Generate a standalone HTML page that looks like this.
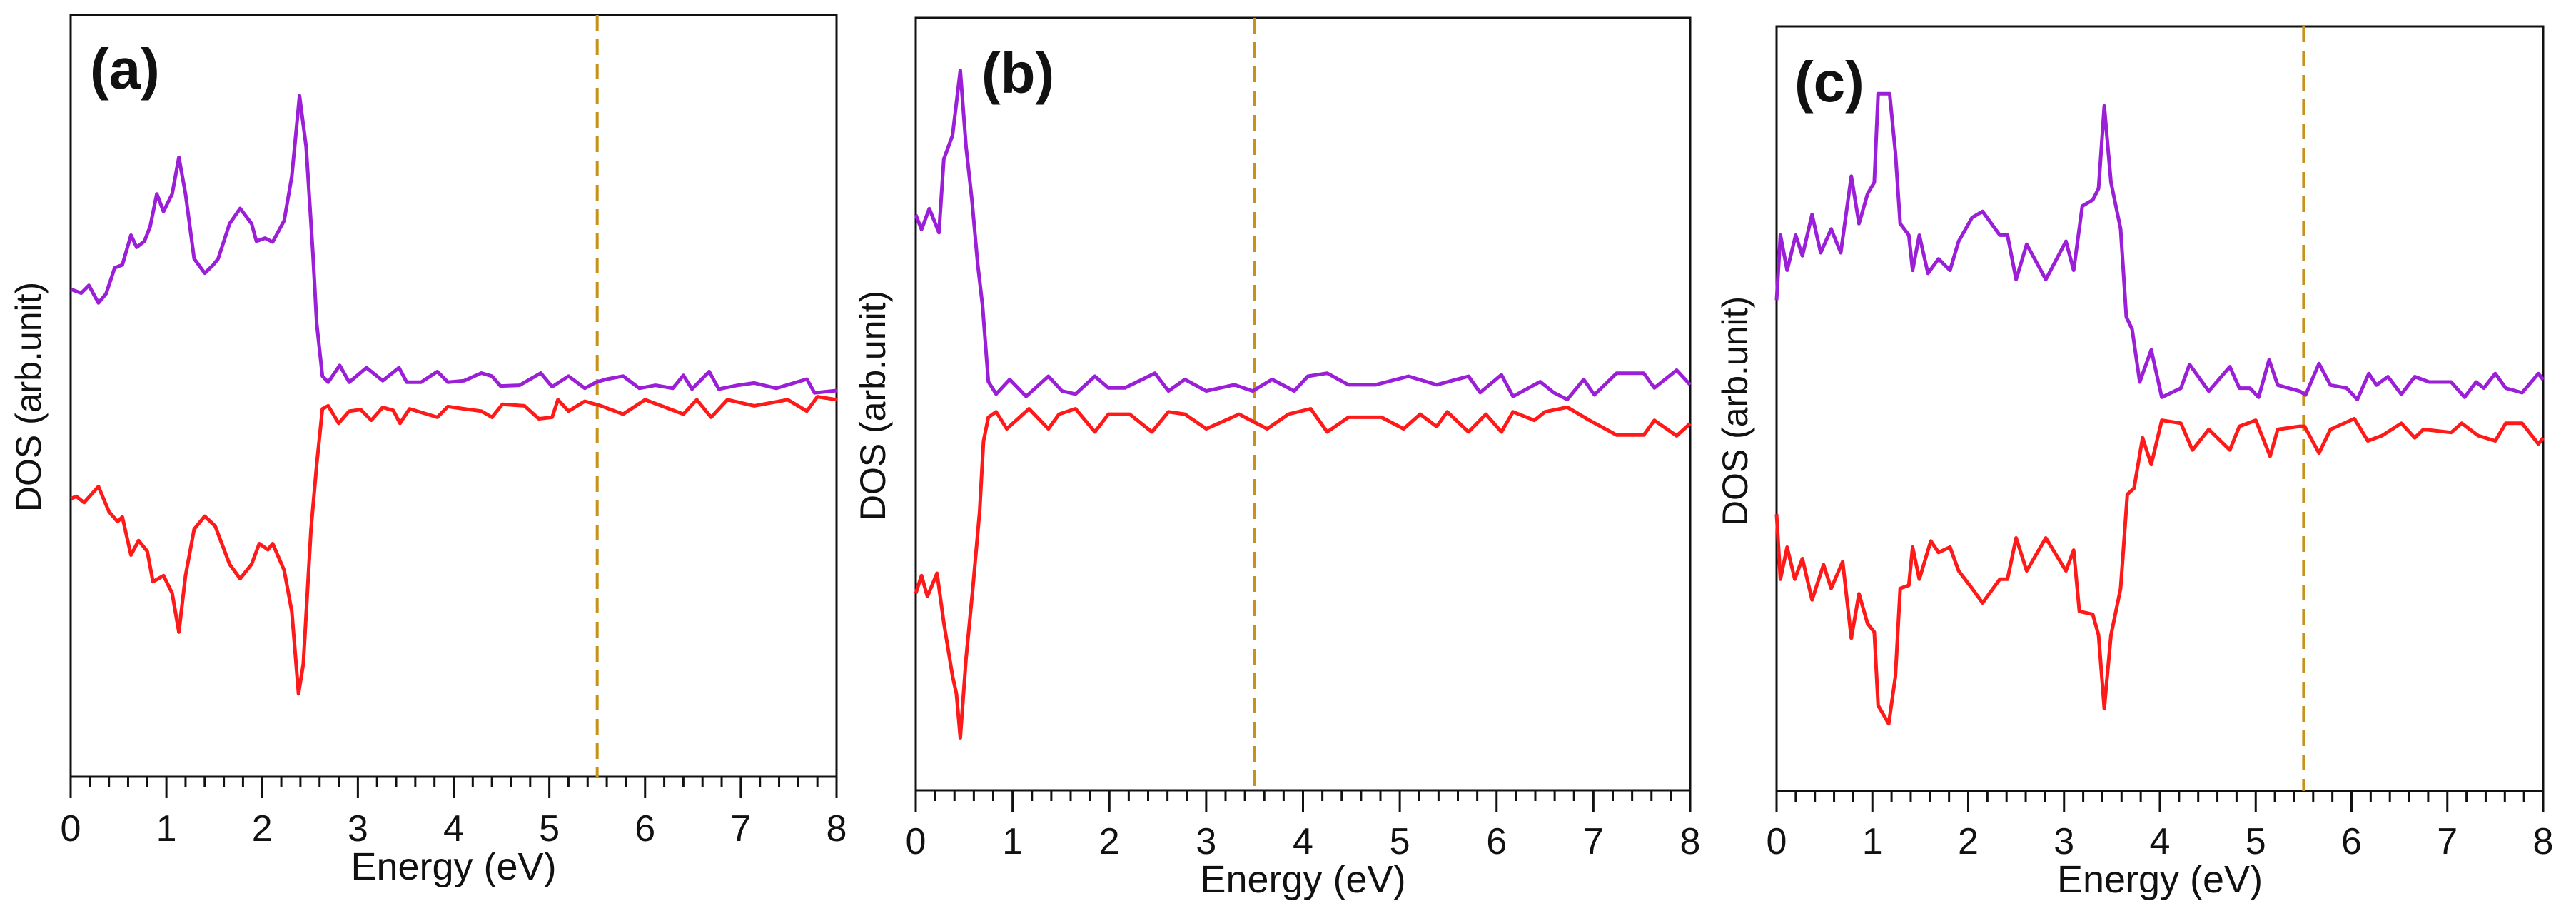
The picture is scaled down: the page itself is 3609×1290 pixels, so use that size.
<!DOCTYPE html>
<html><head><meta charset="utf-8"><style>
html,body{margin:0;padding:0;background:#fff;}
svg{display:block;}
text{font-family:"Liberation Sans",Arial,sans-serif;fill:#111;}
</style></head><body>
<svg id="fig" width="3609" height="1290" viewBox="0 0 3609 1290" xmlns="http://www.w3.org/2000/svg"></svg>
<script>
// ---- data (energy in eV, DOS in arb. units 0-100) ----
const xTicks = [0,1,2,3,4,5,6,7,8];
const panelLabels = ["(a)","(b)","(c)"];
const fermiLines = [5.5, 3.5, 5.5];

const aUpE = [0,0.11,0.19,0.29,0.37,0.46,0.54,0.63,0.69,0.77,0.83,0.90,0.97,1.06,1.13,1.20,1.29,1.40,1.49,1.54,1.66,1.77,1.89,1.94,2.03,2.11,2.23,2.31,2.39,2.46,2.53,2.57,2.63,2.69,2.81,2.91,3.09,3.26,3.43,3.51,3.66,3.83,3.94,4.11,4.29,4.40,4.49,4.69,4.91,5.03,5.20,5.37,5.49,5.60,5.77,5.94,6.11,6.29,6.40,6.49,6.67,6.77,6.97,7.14,7.37,7.69,7.77,8.0];
const aUpD = [64.0,63.5,64.5,62.2,63.4,66.8,67.2,71.1,69.5,70.3,72.2,76.5,74.2,76.5,81.3,76.5,68.0,66.1,67.2,68.0,72.6,74.6,72.6,70.3,70.7,70.2,73.0,78.8,89.4,82.7,68.8,59.5,52.6,51.8,54.0,51.8,53.7,52.0,53.7,51.8,51.8,53.2,51.8,52.0,53.0,52.6,51.3,51.4,53.0,51.2,52.6,51.0,51.8,52.2,52.6,51.0,51.4,51.0,52.7,50.9,53.2,50.9,51.4,51.7,51.0,52.2,50.4,50.7];
const aDnE = [0,0.06,0.14,0.29,0.40,0.49,0.54,0.63,0.71,0.80,0.86,0.97,1.06,1.13,1.20,1.29,1.40,1.51,1.66,1.77,1.89,1.97,2.06,2.11,2.23,2.31,2.38,2.43,2.51,2.57,2.63,2.69,2.80,2.91,3.03,3.14,3.26,3.37,3.44,3.54,3.83,3.94,4.11,4.29,4.40,4.51,4.74,4.89,5.03,5.09,5.20,5.37,5.54,5.77,6.0,6.17,6.40,6.54,6.69,6.86,7.14,7.49,7.69,7.80,8.0];
const aDnD = [36.5,36.8,36.0,38.1,34.8,33.5,34.1,29.1,31.0,29.6,25.6,26.4,24.1,19.0,26.4,32.5,34.2,32.9,27.9,26.0,27.9,30.6,29.8,30.6,27.1,21.7,10.9,14.8,32.5,41.0,48.3,48.7,46.4,48.0,48.2,46.8,48.5,48.1,46.4,48.3,47.2,48.6,48.3,48.0,47.2,48.9,48.7,47.0,47.2,49.5,48.0,49.3,48.7,47.6,49.5,48.7,47.6,49.5,47.2,49.5,48.7,49.5,48.0,49.9,49.5];

const bUpE = [0,0.06,0.14,0.24,0.29,0.38,0.46,0.52,0.58,0.64,0.69,0.75,0.83,0.97,1.14,1.37,1.51,1.65,1.85,1.99,2.16,2.47,2.61,2.78,3.00,3.29,3.48,3.68,3.91,4.05,4.25,4.47,4.75,5.09,5.38,5.71,5.83,6.05,6.17,6.45,6.59,6.73,6.90,7.01,7.24,7.52,7.63,7.86,8.0];
const bUpD = [74.5,72.6,75.3,72.2,81.7,84.8,93.2,83.3,76.4,68.1,62.7,52.9,51.3,53.2,51.0,53.6,51.7,51.3,53.6,52.1,52.1,54.0,51.7,53.2,51.7,52.5,51.7,53.2,51.7,53.6,54.0,52.5,52.5,53.6,52.5,53.6,51.5,53.8,51.0,52.9,51.5,50.6,53.2,51.2,54.0,54.0,52.1,54.4,52.5];
const bDnE = [0,0.06,0.12,0.22,0.29,0.38,0.42,0.46,0.52,0.59,0.66,0.70,0.75,0.83,0.94,1.17,1.37,1.48,1.65,1.85,1.99,2.21,2.44,2.61,2.78,3.00,3.34,3.63,3.85,4.08,4.25,4.47,4.81,5.04,5.21,5.38,5.49,5.71,5.89,6.05,6.17,6.39,6.50,6.73,6.96,7.24,7.52,7.63,7.86,8.0];
const bDnD = [25.5,27.8,25.1,28.1,21.7,14.8,12.5,6.8,17.1,26.2,36.1,45.2,48.3,49.0,46.8,49.4,46.8,48.7,49.4,46.4,48.7,48.7,46.4,49.0,48.7,46.8,48.7,46.8,48.7,49.4,46.4,48.3,48.3,46.8,48.7,47.1,49.0,46.4,48.7,46.4,49.0,47.9,49.0,49.6,47.9,46.0,46.0,47.9,45.9,47.5];

const cUpE = [0,0.04,0.11,0.20,0.27,0.37,0.46,0.57,0.67,0.78,0.86,0.95,1.02,1.06,1.18,1.24,1.29,1.38,1.42,1.49,1.58,1.69,1.81,1.90,2.04,2.15,2.33,2.41,2.50,2.61,2.81,3.02,3.10,3.19,3.30,3.36,3.42,3.49,3.59,3.65,3.71,3.79,3.91,4.02,4.22,4.31,4.51,4.73,4.83,4.94,5.03,5.14,5.23,5.46,5.52,5.66,5.78,5.95,6.06,6.18,6.26,6.38,6.52,6.66,6.81,7.04,7.18,7.30,7.38,7.50,7.61,7.78,7.95,8.0];
const cUpD = [64.2,72.7,68.1,72.7,70.0,75.4,70.4,73.5,70.4,80.4,74.2,78.1,79.6,91.2,91.2,83.5,74.2,72.7,68.1,72.7,67.7,69.6,68.1,71.9,75.0,75.8,72.7,72.7,66.9,71.5,66.9,71.9,68.1,76.5,77.3,78.8,89.6,79.6,73.5,62.0,60.4,53.5,57.7,51.5,52.7,55.8,52.3,55.5,52.7,52.7,51.5,56.4,53.1,52.3,51.8,55.9,53.1,52.7,51.2,54.6,53.1,54.2,51.9,54.2,53.5,53.5,51.5,53.5,52.7,54.6,52.7,52.1,54.6,53.8];
const cDnE = [0,0.04,0.11,0.19,0.27,0.37,0.49,0.57,0.69,0.78,0.86,0.95,1.02,1.06,1.17,1.24,1.29,1.38,1.42,1.49,1.61,1.69,1.81,1.90,2.04,2.15,2.33,2.41,2.50,2.61,2.81,3.02,3.10,3.16,3.30,3.36,3.42,3.49,3.59,3.66,3.73,3.82,3.91,4.02,4.22,4.34,4.51,4.73,4.83,5.00,5.15,5.23,5.46,5.51,5.66,5.78,6.03,6.17,6.32,6.52,6.66,6.75,7.04,7.15,7.32,7.50,7.61,7.78,7.95,8.0];
const cDnD = [36.2,27.7,31.9,27.7,30.4,25.0,29.6,26.5,30.0,20.0,25.8,21.9,20.8,11.2,8.8,15.0,26.5,26.9,31.9,27.7,32.7,31.2,31.9,28.8,26.5,24.6,27.7,27.7,33.1,28.8,33.1,28.8,31.5,23.5,23.1,20.4,10.8,20.4,26.5,38.8,39.6,46.2,42.7,48.5,48.1,44.6,47.3,44.6,47.7,48.5,43.8,47.3,47.7,47.7,44.2,47.3,48.7,45.8,46.5,48.1,46.2,47.3,46.9,48.1,46.5,45.8,48.1,48.1,45.4,46.2];

const seriesUpE = [aUpE,bUpE,cUpE], seriesUpD = [aUpD,bUpD,cUpD];
const seriesDnE = [aDnE,bDnE,cDnE], seriesDnD = [aDnD,bDnD,cDnD];

// ---- layout ----
const panels = [
  {x0:99,  x1:1172, y0:21, y1:1088, lx:126, ly:124, ylx:57,  yly:556, tly:1178, ely:1232},
  {x0:1283,x1:2368, y0:25, y1:1107, lx:1375,ly:130, ylx:1240,yly:568, tly:1196, ely:1250},
  {x0:2489,x1:3563, y0:37, y1:1108, lx:2514,ly:142, ylx:2448,yly:576, tly:1196, ely:1250}
];
const NS = "http://www.w3.org/2000/svg";
const svg = document.getElementById('fig');
function mk(tag, attrs, parent){ const e=document.createElementNS(NS,tag); for(const k in attrs) e.setAttribute(k,attrs[k]); (parent||svg).appendChild(e); return e; }

panels.forEach((p,i)=>{
  const sx = e => p.x0 + (e/8)*(p.x1-p.x0);
  const sy = d => p.y1 - (d/100)*(p.y1-p.y0);
  const g = mk('g',{});
  
  

  const frame = mk('rect',{x:p.x0,y:p.y0,width:p.x1-p.x0,height:p.y1-p.y0,fill:'none',stroke:'#111','stroke-width':3},g);
  
  

  for(let k=0;k<=40;k++){
    const e = k*0.2, major = k%5===0;
    const t = mk('line',{x1:sx(e),x2:sx(e),y1:p.y1,y2:p.y1+(major?30:15),stroke:'#111','stroke-width':3},g);
    
    
  }
  xTicks.forEach(v=>{
    const t = mk('text',{x:sx(v),y:p.tly,'font-size':52,'text-anchor':'middle'},g);
    t.textContent = v;
    
    
  });
  const xt = mk('text',{x:(p.x0+p.x1)/2,y:p.ely,'font-size':54,'text-anchor':'middle'},g);
  xt.textContent = 'Energy (eV)';
  
  

  const yt = mk('text',{x:0,y:0,'font-size':50,'text-anchor':'middle',transform:`translate(${p.ylx},${p.yly}) rotate(-90)`},g);
  yt.textContent = 'DOS (arb.unit)';
  
  

  const pl = mk('text',{x:p.lx,y:p.ly,'font-size':80,'font-weight':'bold'},g);
  pl.textContent = panelLabels[i];
  
  

  const fl = mk('line',{x1:sx(fermiLines[i]),x2:sx(fermiLines[i]),y1:p.y0,y2:p.y1,stroke:'#c8921a','stroke-width':4,'stroke-dasharray':'22 12'},g);
  
  

  const ptsUp = seriesUpE[i].map((e,j)=>sx(e).toFixed(1)+','+sy(seriesUpD[i][j]).toFixed(1)).join(' ');
  const up = mk('polyline',{points:ptsUp,fill:'none',stroke:'#9b1fd6','stroke-width':5,'stroke-linejoin':'round'},g);
  
  

  const ptsDn = seriesDnE[i].map((e,j)=>sx(e).toFixed(1)+','+sy(seriesDnD[i][j]).toFixed(1)).join(' ');
  const dn = mk('polyline',{points:ptsDn,fill:'none',stroke:'#ff1a1a','stroke-width':5,'stroke-linejoin':'round'},g);
  
  
});
</script>
</body></html>
